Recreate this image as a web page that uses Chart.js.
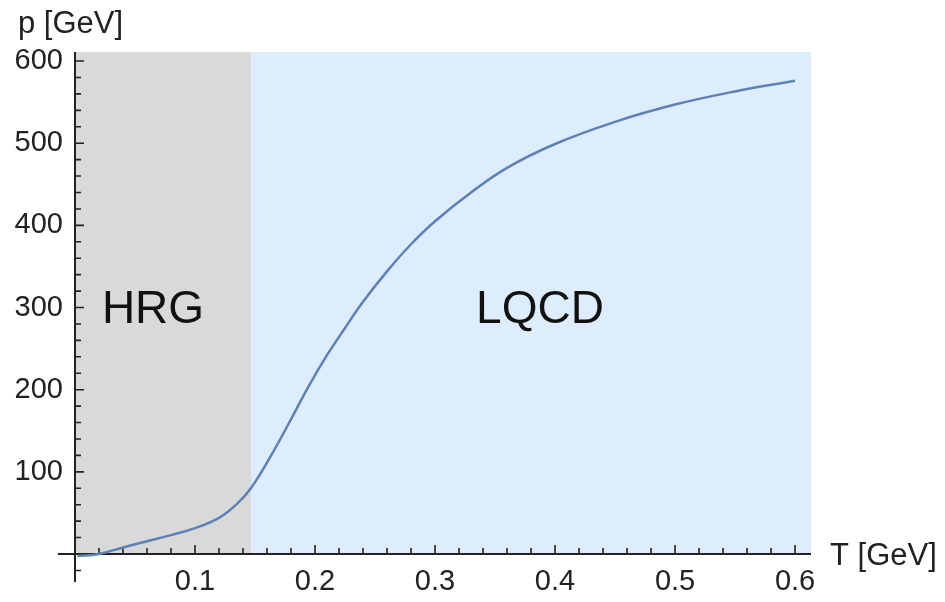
<!DOCTYPE html>
<html>
<head>
<meta charset="utf-8">
<script src="https://cdn.jsdelivr.net/npm/chart.js@4"></script>
<style>
  html, body { margin: 0; padding: 0; background: #fff; }
  #wrap { width: 945px; height: 602px; }
</style>
</head>
<body>
<div id="wrap"><canvas id="chart" width="945" height="602"></canvas></div>
<script>
// temperature T [GeV] and pressure p [GeV]
const temps = [0.002, 0.02, 0.04, 0.06, 0.08, 0.10, 0.12, 0.135, 0.147, 0.165, 0.18, 0.195,
  0.21, 0.225, 0.24, 0.26, 0.28, 0.30, 0.33, 0.36, 0.40, 0.45, 0.50, 0.55, 0.60];
const pressure = [-2.5, 0, 8, 15.5, 23, 31.5, 44, 61, 81, 124, 164, 205,
  242, 275, 307, 344, 377, 405, 440, 470, 499, 526, 547, 563, 576];

const xTickLabels = [0.1, 0.2, 0.3, 0.4, 0.5, 0.6];
const yTickLabels = [100, 200, 300, 400, 500, 600];

// region split between hadron resonance gas and lattice QCD
const hrgEnd = 0.147;
const regions = [
  { text: 'HRG', x: 0.065, y: 296 },
  { text: 'LQCD', x: 0.3875, y: 296 }
];

const xMax = 0.6133;
const yMax = 611;
const fontFam = '"Liberation Sans", Arial, sans-serif';
const ink = '#222';

const backdrop = {
  id: 'backdrop',
  beforeDatasetsDraw(chart) {
    const { ctx, chartArea: a, scales: { x, y } } = chart;
    const x0 = x.getPixelForValue(0);
    const xs = x.getPixelForValue(hrgEnd);
    const y0 = y.getPixelForValue(0);
    ctx.save();
    ctx.fillStyle = '#d9d9d9';
    ctx.fillRect(x0, a.top, xs - x0, y0 - a.top);
    ctx.fillStyle = '#ddedfd';
    ctx.fillRect(xs, a.top, a.right - xs, y0 - a.top);

    // axes through the origin
    ctx.strokeStyle = ink;
    ctx.lineWidth = 2;
    ctx.beginPath();
    ctx.moveTo(x0 - 17, y0);
    ctx.lineTo(a.right, y0);
    ctx.moveTo(x0, a.top);
    ctx.lineTo(x0, y0 + 28);
    ctx.stroke();

    // inward tick marks, long every 0.1 / 100
    ctx.lineWidth = 1.6;
    ctx.beginPath();
    for (let i = 1; i <= 30; i++) {
      const px = x.getPixelForValue(i * 0.02);
      const len = i % 5 === 0 ? 9 : 6;
      ctx.moveTo(px, y0);
      ctx.lineTo(px, y0 - len);
    }
    for (let i = -1; i <= 30; i++) {
      if (i === 0) continue;
      const py = y.getPixelForValue(i * 20);
      const len = i % 5 === 0 ? 9 : 6;
      ctx.moveTo(x0, py);
      ctx.lineTo(x0 + len, py);
    }
    ctx.stroke();
    ctx.restore();
  },
  afterDatasetsDraw(chart) {
    const { ctx, scales: { x, y } } = chart;
    ctx.save();
    ctx.fillStyle = '#111';
    ctx.font = '46px ' + fontFam;
    ctx.textAlign = 'center';
    ctx.textBaseline = 'middle';
    regions.forEach(r => {
      ctx.fillText(r.text, x.getPixelForValue(r.x), y.getPixelForValue(r.y));
    });

    ctx.fillStyle = ink;
    ctx.font = '31px ' + fontFam;
    ctx.textAlign = 'left';
    ctx.textBaseline = 'alphabetic';
    ctx.fillText('p [GeV]', 18, 33);
    ctx.fillText('T [GeV]', 830, 565);
    ctx.restore();
  }
};

new Chart(document.getElementById('chart'), {
  type: 'line',
  data: {
    datasets: [{
      data: temps.map((t, i) => ({ x: t, y: pressure[i] })),
      borderColor: '#5e81b5',
      borderWidth: 2.5,
      pointRadius: 0,
      tension: 0.4,
      clip: false
    }]
  },
  options: {
    responsive: false,
    animation: false,
    layout: { padding: { top: 52, right: 134, bottom: 0, left: 0 } },
    plugins: { legend: { display: false }, tooltip: { enabled: false } },
    scales: {
      x: {
        type: 'linear',
        min: 0,
        max: xMax,
        grid: { display: false, drawTicks: false },
        border: { display: false },
        afterBuildTicks: s => { s.ticks = xTickLabels.map(v => ({ value: v })); },
        afterFit: s => { s.height = 48; },
        ticks: {
          padding: 11,
          maxRotation: 0,
          color: ink,
          font: { family: fontFam, size: 29 },
          callback: v => v.toFixed(1)
        }
      },
      y: {
        min: 0,
        max: yMax,
        grid: { display: false, drawTicks: false },
        border: { display: false },
        afterBuildTicks: s => { s.ticks = yTickLabels.map(v => ({ value: v })); },
        afterFit: s => { s.width = 75; },
        ticks: {
          padding: 12,
          color: ink,
          font: { family: fontFam, size: 29 },
          callback: v => String(v)
        }
      }
    }
  },
  plugins: [backdrop]
});
</script>
</body>
</html>
